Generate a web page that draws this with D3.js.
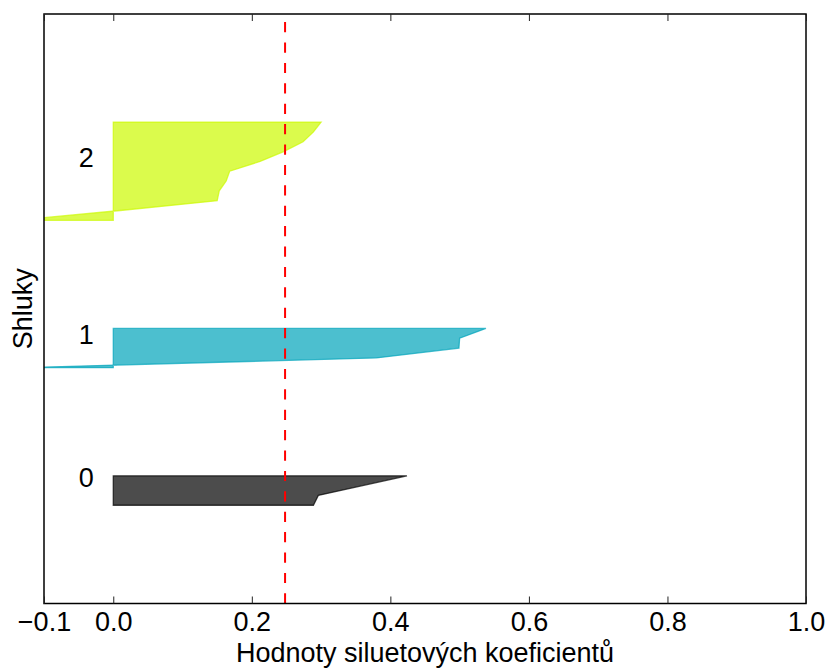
<!DOCTYPE html>
<html>
<head>
<meta charset="utf-8">
<script src="https://cdn.jsdelivr.net/npm/d3@7"></script>
<style>
  html, body { margin: 0; padding: 0; background: #fff; }
  text { font-family: "Liberation Sans", Arial, sans-serif; fill: #000; }
</style>
</head>
<body>
<svg id="chart" width="825" height="669"></svg>
<script>
// Cluster labels
const clusters = ["0", "1", "2"];
// Sorted silhouette values per cluster (ascending, bottom to top)
const cluster0Values = [0.289, 0.296, 0.360, 0.424];
const cluster1Values = [-0.13, 0.380, 0.499, 0.500, 0.538];
const cluster2Values = [-0.14, 0.010, 0.150, 0.153, 0.163, 0.168, 0.212, 0.246, 0.274, 0.289, 0.300];
const clusterValues = [cluster0Values, cluster1Values, cluster2Values];
const clusterColors = ["rgb(0,0,0)", "rgb(0,164,187)", "rgb(204,249,0)"];
const avgScore = 0.248;
const xTicks = [-0.1, 0.0, 0.2, 0.4, 0.6, 0.8, 1.0];
const xLabel = "Hodnoty siluetových koeficientů";
const yLabel = "Shluky";

const svg = d3.select("#chart");
const W = 825, H = 669;
const x0 = 44, x1 = 806, y0 = 14, y1 = 603.5;

const nTotal = d3.sum(clusterValues, d => d.length);
const x = d3.scaleLinear().domain([-0.1, 1.0]).range([x0, x1]);
const y = d3.scaleLinear().domain([0, nTotal + (clusters.length + 1) * 10]).range([y1, y0]);

svg.append("defs").append("clipPath").attr("id", "clip")
  .append("rect").attr("x", x0).attr("y", y0).attr("width", x1 - x0).attr("height", y1 - y0);

const plot = svg.append("g").attr("clip-path", "url(#clip)");

const area = d3.area()
  .y(d => y(d.y))
  .x0(() => x(0))
  .x1(d => x(d.v));

let yLower = 10;
const fs = 27;
clusterValues.forEach((vals, i) => {
  const pts = vals.map((v, k) => ({y: yLower + k, v: v}));
  plot.append("path")
    .datum(pts)
    .attr("d", area)
    .attr("fill", clusterColors[i])
    .attr("fill-opacity", 0.7)
    .attr("stroke", clusterColors[i])
    .attr("stroke-opacity", 0.7)
    .attr("stroke-width", 1.3)
    .attr("stroke-linejoin", "miter");
  svg.append("text")
    .attr("x", x(-0.05))
    .attr("y", y(yLower + 0.5 * vals.length) + 1)
    .attr("font-size", fs)
    .text(clusters[i]);
  yLower = yLower + vals.length + 10;
});

// average line
svg.append("line")
  .attr("x1", x(avgScore)).attr("x2", x(avgScore))
  .attr("y1", y1).attr("y2", y0)
  .attr("stroke", "red")
  .attr("stroke-width", 2)
  .attr("stroke-dasharray", "10.2,10.2");

// frame
svg.append("rect")
  .attr("x", x0).attr("y", y0).attr("width", x1 - x0).attr("height", y1 - y0)
  .attr("fill", "none").attr("stroke", "#000").attr("stroke-width", 1.5);

// ticks
const fmt = d => (d < 0 ? "\u2212" : "") + Math.abs(d).toFixed(1);
const axB = d3.axisBottom(x).tickValues(xTicks).tickSizeInner(-7).tickSizeOuter(0).tickPadding(8).tickFormat(fmt);
const gB = svg.append("g").attr("transform", `translate(0,${y1})`).call(axB);
gB.select(".domain").remove();
gB.selectAll(".tick line").attr("stroke", "#222").attr("stroke-width", 1);
gB.selectAll(".tick text").attr("font-size", fs).attr("font-family", "Liberation Sans, Arial, sans-serif").attr("fill", "#000");

const axT = d3.axisTop(x).tickValues(xTicks).tickSizeInner(-7).tickSizeOuter(0).tickFormat("");
const gT = svg.append("g").attr("transform", `translate(0,${y0})`).call(axT);
gT.select(".domain").remove();
gT.selectAll(".tick line").attr("stroke", "#222").attr("stroke-width", 1);

// axis labels
svg.append("text")
  .attr("x", (x0 + x1) / 2).attr("y", 662)
  .attr("text-anchor", "middle").attr("font-size", fs)
  .text(xLabel);
svg.append("text")
  .attr("transform", `translate(32,${(y0 + y1) / 2}) rotate(-90)`)
  .attr("text-anchor", "middle").attr("font-size", fs)
  .text(yLabel);
</script>
</body>
</html>
